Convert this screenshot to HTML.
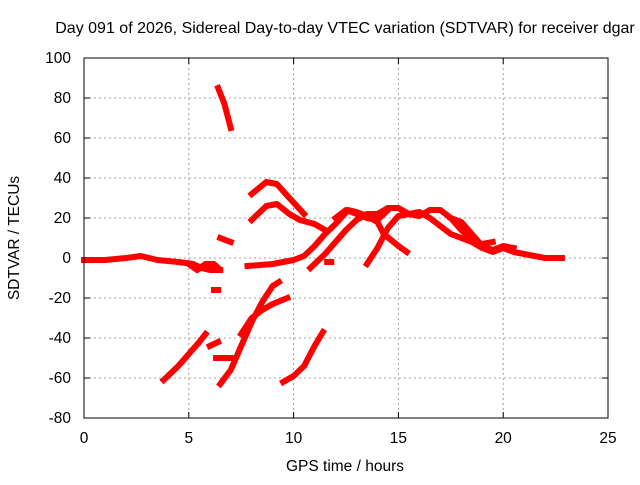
<!DOCTYPE html>
<html><head><meta charset="utf-8"><style>
body{margin:0;background:#fff;}
svg text{font-family:"Liberation Sans",sans-serif;font-size:15.5px;fill:#000;}
</style></head><body>
<svg width="640" height="480" id="c">
<text x="345" y="33" text-anchor="middle" style="font-size:16px">Day 091 of 2026, Sidereal Day-to-day VTEC variation (SDTVAR) for receiver dgar</text>
<text x="345" y="471" text-anchor="middle">GPS time / hours</text>
<text transform="translate(19,238) rotate(-90)" text-anchor="middle">SDTVAR / TECUs</text>
<g id="grid"></g>
<g id="series"></g>
<rect x="84" y="58" width="524" height="360" fill="none" stroke="#000" stroke-width="1"/>
</svg>
<script>
const xTicks=[0,5,10,15,20,25];
const yTicks=[100,80,60,40,20,0,-20,-40,-60,-80];
const seg1=[[0,-1],[1,-1],[2,0],[2.7,1],[3.5,-1],[4.5,-2],[5.2,-3],[5.6,-5],[6,-6],[6.5,-6]];
const seg2=[[5,-3],[5.4,-6],[5.8,-3],[6.2,-3],[6.4,-5]];
const seg3=[[6.4,85],[6.7,77],[7.0,65]];
const seg4=[[6.5,10],[7.0,8]];
const seg5=[[7.8,-4],[9,-3],[10,-1],[10.5,1],[11,6],[11.5,12],[12,17],[12.6,24],[13,23],[13.5,21],[14,18],[14.3,12],[15,6],[15.4,3]];
const seg6=[[8,32],[8.7,38],[9.2,37],[9.8,30],[10.5,22]];
const seg7=[[8,19],[8.7,26],[9.2,27],[9.8,22],[10.3,19],[11,17],[11.5,14]];
const seg8=[[10.8,-5],[11.5,2],[12,8],[12.5,14],[13,19],[13.5,22],[14,22],[14.5,25],[15,25],[15.5,22],[16,21],[16.5,24],[17,24],[17.5,20],[18,14],[18.5,9],[19,7],[19.5,8]];
const seg9=[[13.5,-3],[14,5],[14.5,15],[15,21],[15.5,22],[16,23],[16.5,20],[17,16],[17.5,12],[18,10],[18.5,8],[19,5],[19.5,3],[20,5],[20.5,3],[21,2],[22,0],[22.8,0]];
const seg10=[[17.5,20],[18,18],[18.5,12],[19,6],[19.5,4],[20,6],[20.5,5]];
const seg11=[[12,20],[12.5,24],[13,22],[13.5,20],[14,19],[14.5,24]];
const seg12=[[3.8,-61],[4.5,-54],[5,-48],[5.5,-42],[5.8,-38]];
const seg13=[[6,-44],[6.4,-42]];
const seg14=[[6.5,-63],[7,-56],[7.5,-44],[8,-32],[8.5,-22],[9,-14],[9.3,-12]];
const seg15=[[7.5,-38],[8,-30],[8.5,-26],[9,-23],[9.7,-20]];
const seg16=[[6.3,-50],[7,-50]];
const seg17=[[9.5,-62],[10,-59],[10.5,-54],[11,-44],[11.4,-37]];
const seg18=[[6.2,-16],[6.4,-16]];
const seg19=[[11.6,-2],[11.8,-2]];
const allSegs=[seg1,seg2,seg3,seg4,seg5,seg6,seg7,seg8,seg9,seg10,seg11,seg12,seg13,seg14,seg15,seg16,seg17,seg18,seg19];
const NS='http://www.w3.org/2000/svg';
const X=h=>84+h*(524/25);
const Y=v=>418-(v+80)*(360/180);
const g=document.getElementById('grid');
function mk(t,a,p){const e=document.createElementNS(NS,t);for(const k in a)e.setAttribute(k,a[k]);p.appendChild(e);return e;}
xTicks.forEach(t=>{
  if(t>0&&t<25){const l=mk('line',{x1:X(t),x2:X(t),y1:58,y2:418,stroke:'#a0a0a0','stroke-dasharray':'2,3'},g);
  
  }
  mk('line',{x1:X(t),x2:X(t),y1:418,y2:412,stroke:'#000'},g);
  mk('line',{x1:X(t),x2:X(t),y1:58,y2:64,stroke:'#000'},g);
  const tx=mk('text',{x:X(t),y:443,'text-anchor':'middle'},g);tx.textContent=t;
  
  
});
yTicks.forEach(t=>{
  if(t>-80&&t<100){const l=mk('line',{x1:84,x2:608,y1:Y(t),y2:Y(t),stroke:'#a0a0a0','stroke-dasharray':'2,3'},g);
  
  }
  mk('line',{x1:84,x2:90,y1:Y(t),y2:Y(t),stroke:'#000'},g);
  mk('line',{x1:602,x2:608,y1:Y(t),y2:Y(t),stroke:'#000'},g);
  const tx=mk('text',{x:71,y:Y(t)+5,'text-anchor':'end'},g);tx.textContent=t;
  
  
});
const s=document.getElementById('series');
allSegs.forEach(seg=>{
  const p=mk('polyline',{points:seg.map(d=>X(d[0])+','+Y(d[1])).join(' '),fill:'none',stroke:'#ff0000','stroke-width':6,'stroke-linejoin':'round','stroke-linecap':'square'},s);
  
  
});
</script>
</body></html>
